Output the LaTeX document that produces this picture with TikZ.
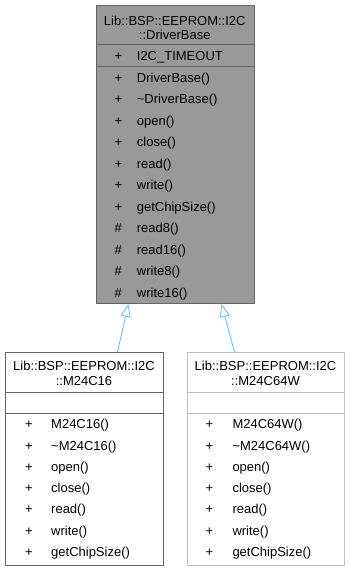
\documentclass[tikz,border=0pt]{standalone}
\usepackage{fontspec}
\setmainfont{Liberation Sans}
\usetikzlibrary{arrows.meta}
\definecolor{basefill}{HTML}{999999}
\definecolor{darkedge}{HTML}{666666}
\definecolor{lightedge}{HTML}{BFBFBF}
\definecolor{inherit}{HTML}{63B8FF}
\begin{document}
\begin{tikzpicture}[x=1pt,y=-1pt,
  classbox/.style={draw=#1, line width=0.9pt, inner sep=0pt, anchor=north west},
  divider/.style={draw=#1, line width=0.9pt},
  lbl/.style={inner sep=0pt, font=\fontsize{13}{15}\selectfont, anchor=base},
  member/.style={lbl, anchor=base west},
  vis/.style={lbl, anchor=base},
  inheritance/.style={draw=inherit, line width=0.8pt,
    -{Triangle[open,length=13pt,width=10pt]}}]
\useasboundingbox (0,0) rectangle (350,571);

% base class
\node[classbox=darkedge, fill=basefill, minimum width=158.5pt, minimum height=298pt] (base) at (95.5,5) {};
\draw[divider=darkedge] (95.5,44.5) -- (254,44.5);
\draw[divider=darkedge] (95.5,66.5) -- (254,66.5);
\node[lbl] (baset1) at (174.75,25) {Lib::BSP::EEPROM::I2C};
\node[lbl] (baset2) at (174.75,39.5) {::DriverBase};
\node[vis] (basea0) at (118.3,60) {+};
\node[member] (basea1) at (136.7,60) {I2C\_TIMEOUT};
\foreach \i/\v/\m in {0/+/DriverBase(), 1/+/\textasciitilde DriverBase(), 2/+/open(), 3/+/close(),
  4/+/read(), 5/+/write(), 6/+/getChipSize(), 7/\#/read8(), 8/\#/read16(), 9/\#/write8(), 10/\#/write16()}{
  \node[vis] (basev\i) at (118.3,82+21.5*\i) {\v};
  \node[member] (basem\i) at (136.7,82+21.5*\i) {\m};
}

% derived class M24C16
\node[classbox=darkedge, fill=white, minimum width=158pt, minimum height=213pt] (left) at (5,352) {};
\draw[divider=darkedge] (5,392) -- (163,392);
\draw[divider=darkedge] (5,413) -- (163,413);
\node[lbl] (leftt1) at (84,370.5) {Lib::BSP::EEPROM::I2C};
\node[lbl] (leftt2) at (84,385) {::M24C16};
\foreach \i/\m in {0/M24C16(), 1/\textasciitilde M24C16(), 2/open(), 3/close(), 4/read(), 5/write(), 6/getChipSize()}{
  \node[vis] (leftv\i) at (29,428.7+21.3*\i) {+};
  \node[member] (leftm\i) at (51,428.7+21.3*\i) {\m};
}

% derived class M24C64W
\node[classbox=lightedge, fill=white, minimum width=157pt, minimum height=213pt] (right) at (187,352) {};
\draw[divider=lightedge] (187,392) -- (344,392);
\draw[divider=lightedge] (187,413) -- (344,413);
\node[lbl] (rightt1) at (265.5,370.5) {Lib::BSP::EEPROM::I2C};
\node[lbl] (rightt2) at (265.5,385) {::M24C64W};
\foreach \i/\m in {0/M24C64W(), 1/\textasciitilde M24C64W(), 2/open(), 3/close(), 4/read(), 5/write(), 6/getChipSize()}{
  \node[vis] (rightv\i) at (209.3,428.7+21.3*\i) {+};
  \node[member] (rightm\i) at (232.3,428.7+21.3*\i) {\m};
}

% inheritance edges
\draw[inheritance] ([xshift=33pt]left.north) -- ([xshift=-46.75pt]base.south);
\draw[inheritance] ([xshift=-31.5pt]right.north) -- ([xshift=46.25pt]base.south);
\end{tikzpicture}
\end{document}
